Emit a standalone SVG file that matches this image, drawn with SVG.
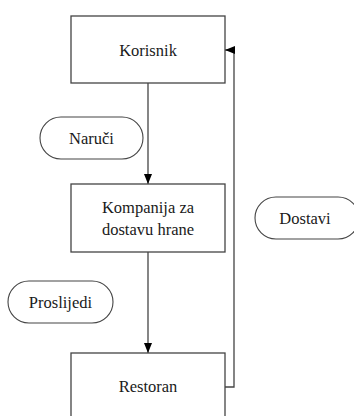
<svg xmlns="http://www.w3.org/2000/svg" width="354" height="416" viewBox="0 0 354 416">
  <style>
    .box { fill: #ffffff; stroke: #444444; stroke-width: 1.3; }
    .pill { fill: #ffffff; stroke: #444444; stroke-width: 1.1; }
    .lbl { font-family: 'Liberation Serif', 'DejaVu Serif', serif; font-size: 16.5px; fill: #1a1a1a; text-anchor: middle; dominant-baseline: central; }
    .edge { fill: none; stroke: #444444; stroke-width: 1.3; }
  </style>
  <defs>
    <marker id="arrow" viewBox="0 0 10 8" refX="10" refY="4" markerWidth="10" markerHeight="8" markerUnits="userSpaceOnUse" orient="auto">
      <path d="M0,0 L10,4 L0,8 Z" fill="#000000"/>
    </marker>
  </defs>
  <rect width="354" height="416" fill="#ffffff"/>

  <g id="connectors">
    <path class="edge" d="M148,83 V184" marker-end="url(#arrow)"/>
    <path class="edge" d="M148,252 V353" marker-end="url(#arrow)"/>
    <path class="edge" d="M225,387 H234 V50 H225" marker-end="url(#arrow)"/>
  </g>

  <g id="korisnik">
    <rect class="box" x="71" y="16" width="154" height="67"/>
    <text class="lbl" x="148" y="50" font-family="Liberation Serif, serif">Korisnik</text>
  </g>

  <g id="kompanija">
    <rect class="box" x="71" y="184" width="154" height="68"/>
    <text class="lbl" x="148" y="207">Kompanija za</text>
    <text class="lbl" x="148" y="229">dostavu hrane</text>
  </g>

  <g id="restoran">
    <rect class="box" x="71" y="353" width="154" height="68"/>
    <text class="lbl" x="148" y="386">Restoran</text>
  </g>

  <g id="naruci">
    <rect class="pill" x="40" y="117" width="103" height="42" rx="21"/>
    <text class="lbl" x="91.5" y="138">Naruči</text>
  </g>

  <g id="proslijedi">
    <rect class="pill" x="8" y="281" width="105" height="42" rx="21"/>
    <text class="lbl" x="60.5" y="302">Proslijedi</text>
  </g>

  <g id="dostavi">
    <rect class="pill" x="255" y="197" width="104" height="42" rx="21"/>
    <text class="lbl" x="305" y="218">Dostavi</text>
  </g>
</svg>
